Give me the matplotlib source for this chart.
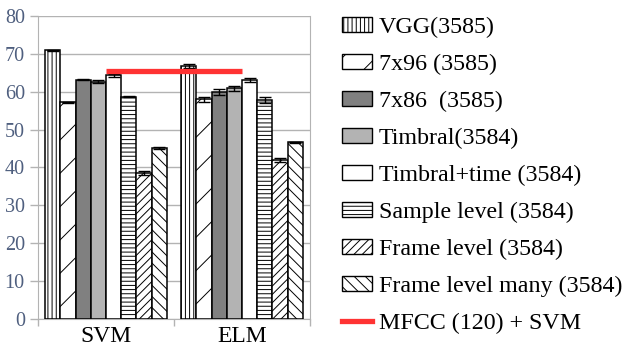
import numpy as np
import matplotlib
matplotlib.use('Agg')
import matplotlib.pyplot as plt
from matplotlib.patches import Patch
from matplotlib.lines import Line2D

plt.rcParams['font.family'] = ['Liberation Serif', 'DejaVu Serif']
plt.rcParams['hatch.linewidth'] = 0.7

classifiers = ['SVM', 'ELM']
series = ['VGG(3585)', '7x96 (3585)', '7x86  (3585)', 'Timbral(3584)',
          'Timbral+time (3584)', 'Sample level (3584)', 'Frame level (3584)',
          'Frame level many (3584)']
svm_acc = [70.9, 57.2, 63.2, 62.6, 64.3, 58.7, 38.5, 45.2]
elm_acc = [66.8, 58.0, 59.9, 60.9, 63.1, 57.7, 41.9, 46.7]
svm_err = [0.2, 0.2, 0.2, 0.4, 0.4, 0.2, 0.5, 0.2]
elm_err = [0.5, 0.7, 0.8, 0.6, 0.5, 0.8, 0.5, 0.1]
mfcc_label = 'MFCC (120) + SVM'
mfcc_acc = 65.6

colors = ['white', 'white', '#808080', '#b3b3b3', 'white', 'white', 'white', 'white']
hatches = ['||||', '/', None, None, None, '----', '////', '\\\\\\']

fig = plt.figure(figsize=(6.4, 3.51), dpi=100)
ax = fig.add_axes([38 / 640, 1 - 319 / 351, 272 / 640, 303 / 351])

x = np.arange(len(classifiers))
w = 0.112
for i, name in enumerate(series):
    vals = [svm_acc[i], elm_acc[i]]
    errs = [svm_err[i], elm_err[i]]
    pos = x - 4 * w + (i + 0.5) * w
    ax.bar(pos, vals, w, color=colors[i], edgecolor='black', linewidth=1.1,
           hatch=hatches[i], zorder=3)
    ax.errorbar(pos, vals, yerr=errs, fmt='none', ecolor='black', elinewidth=1,
                capsize=4, capthick=1, zorder=4)

ax.plot([0, 1], [mfcc_acc, mfcc_acc], color='#ff3333', linewidth=3.8, zorder=5,
        solid_capstyle='butt')

ax.set_xlim(-0.5, 1.5)
ax.set_ylim(0, 80)
ax.set_yticks(range(0, 81, 10))
ax.yaxis.grid(True, color='#b3b3b3', linewidth=1)
ax.set_axisbelow(True)
for s in ax.spines.values():
    s.set_color('#b3b3b3')
ax.spines['top'].set_visible(False)
ax.tick_params(axis='y', colors='#b3b3b3', labelcolor='#4f5f7f', labelsize=14.5,
               length=6, width=1)
ax.set_xticks([-0.5, 0.5, 1.5])
ax.set_xticklabels([])
ax.set_xticks(x, minor=True)
ax.set_xticklabels(classifiers, minor=True, fontsize=17)
ax.tick_params(axis='x', which='minor', length=0, pad=5)
ax.tick_params(axis='x', which='major', colors='#b3b3b3', length=5, width=1)

handles = [Patch(facecolor=colors[i], edgecolor='black', hatch=hatches[i],
                 linewidth=1, label=series[i]) for i in range(len(series))]
handles.append(Line2D([0], [0], color='#ff3333', linewidth=3.8, label=mfcc_label))
fig.legend(handles=handles, loc='upper left', bbox_to_anchor=(330 / 640, 1 - 5 / 351),
           frameon=False, fontsize=17.3, borderpad=0, labelspacing=0.66,
           handlelength=1.25, handleheight=0.58, handletextpad=0.28)

fig.savefig('out.png', dpi=100)
